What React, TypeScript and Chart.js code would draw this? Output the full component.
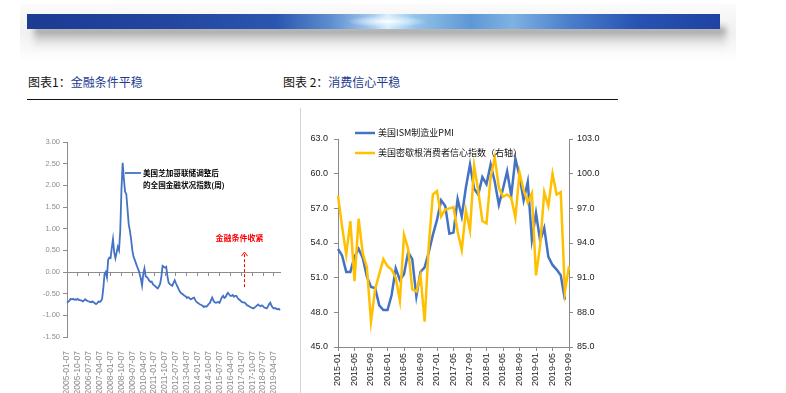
import React, { useEffect, useRef } from "react";
import { Chart, registerables } from "chart.js";

Chart.register(...registerables);

const FONT_NUM = '"Liberation Sans", Arial, sans-serif';
const FONT_CJK = '"Noto Sans CJK SC", "Liberation Sans", sans-serif';

function monthRange(startYear: number, count: number, suffix: string): string[] {
  const out: string[] = [];
  for (let i = 0; i < count; i++) {
    const y = startYear + Math.floor(i / 12);
    const m = (i % 12) + 1;
    out.push(`${y}-${m < 10 ? "0" + m : m}${suffix}`);
  }
  return out;
}

// ---------- Chart 1: Chicago Fed adjusted NFCI (monthly readings of weekly series) ----------
const nfciDates = monthRange(2005, 177, "-07");
const nfciValues = [
  -0.71, -0.69, -0.66, -0.62, -0.63, -0.62, -0.64, -0.63, -0.64, -0.62, -0.65, -0.65,
  -0.66, -0.68, -0.66, -0.63, -0.65, -0.67, -0.68, -0.69, -0.70, -0.68, -0.70, -0.72,
  -0.74, -0.72, -0.68, -0.69, -0.67, -0.62, -0.38, -0.05, 0.00, -0.12, 0.28, 0.33,
  0.32, 0.55, 0.76, 0.45, 0.32, 0.45, 0.58, 0.50, 0.95, 1.90, 2.52, 2.15,
  1.85, 1.80, 1.45, 1.10, 0.95, 0.75, 0.50, 0.35, 0.28, 0.20, 0.12, 0.05,
  -0.04, -0.15, -0.31, -0.05, 0.08, -0.10, -0.12, -0.15, -0.20, -0.23, -0.22, -0.28,
  -0.31, -0.33, -0.36, -0.38, -0.33, -0.27, -0.10, 0.14, 0.12, 0.10, 0.12, -0.10,
  -0.25, -0.28, -0.30, -0.32, -0.25, -0.19, -0.26, -0.32, -0.38, -0.44, -0.48, -0.50,
  -0.52, -0.55, -0.56, -0.60, -0.58, -0.60, -0.63, -0.62, -0.60, -0.59, -0.65, -0.69,
  -0.71, -0.73, -0.75, -0.76, -0.78, -0.81, -0.79, -0.80, -0.78, -0.74, -0.72, -0.65,
  -0.59, -0.66, -0.70, -0.71, -0.70, -0.69, -0.71, -0.65, -0.58, -0.55, -0.60, -0.58,
  -0.52, -0.48, -0.52, -0.55, -0.55, -0.53, -0.57, -0.55, -0.55, -0.60, -0.63, -0.65,
  -0.68, -0.70, -0.70, -0.71, -0.74, -0.77, -0.78, -0.80, -0.82, -0.83, -0.84, -0.82,
  -0.80, -0.77, -0.75, -0.78, -0.79, -0.77, -0.79, -0.82, -0.83, -0.84, -0.80, -0.74,
  -0.71, -0.78, -0.82, -0.84, -0.83, -0.85, -0.86, -0.85, -0.88,
];
const nfciTickLabels = [
  "2005-01-07", "2005-10-07", "2006-07-07", "2007-04-07", "2008-01-07",
  "2008-10-07", "2009-07-07", "2010-04-07", "2011-01-07", "2011-10-07",
  "2012-07-07", "2013-04-07", "2014-01-07", "2014-10-07", "2015-07-07",
  "2016-04-07", "2017-01-07", "2017-10-07", "2018-07-07", "2019-04-07",
];
const nfciLegendLines = ["美国芝加哥联储调整后", "的全国金融状况指数(周)"];
const nfciNoteText = "金融条件收紧";
const nfciNoteDate = "2017-03-07";
const nfciNoteArrowTop = 0.46;
const nfciNoteArrowBottom = -0.35;
const nfciNoteTextValue = 0.78;

// ---------- Chart 2: ISM PMI & Michigan sentiment ----------
const pmiMonths = monthRange(2015, 57, "");
const ismPmi = [
  53.5, 52.9, 51.5, 51.5, 52.8, 53.5, 52.7, 51.1, 50.2, 50.1, 48.6, 48.2,
  48.2, 49.5, 51.8, 50.8, 51.3, 53.2, 52.6, 49.4, 51.5, 51.9, 53.2, 54.7,
  56.0, 57.7, 57.2, 54.8, 54.9, 57.8, 56.3, 58.8, 60.8, 58.7, 58.2, 59.7,
  59.1, 60.8, 59.3, 57.3, 58.7, 60.2, 58.1, 61.3, 59.8, 57.7, 59.3, 54.3,
  56.6, 54.2, 55.3, 52.8, 52.1, 51.7, 51.2, 49.1, null,
];
const michiganSentiment = [
  98.1, 95.4, 93.0, 95.9, 90.7, 96.1, 93.1, 91.9, 87.2, 90.0, 91.3, 92.6,
  92.0, 91.7, 91.0, 89.0, 94.7, 93.5, 90.0, 89.8, 91.2, 87.2, 93.8, 98.2,
  98.5, 96.3, 96.9, 97.0, 97.1, 95.0, 93.4, 96.8, 95.1, 100.7, 98.5, 95.9,
  95.7, 99.7, 101.4, 98.8, 98.0, 98.2, 97.9, 96.2, 100.1, 98.6, 97.5, 98.3,
  91.2, 93.8, 98.4, 97.2, 100.0, 98.2, 98.4, 89.8, 92.0,
];
const pmiTickLabels = [
  "2015-01", "2015-05", "2015-09", "2016-01", "2016-05", "2016-09", "2017-01",
  "2017-05", "2017-09", "2018-01", "2018-05", "2018-09", "2019-01", "2019-05", "2019-09",
];
const pmiLegend = "美国ISM制造业PMI";
const sentimentLegend = "美国密歇根消费者信心指数（右轴）";

const BLUE = "#4472c4";
const YELLOW = "#ffc000";
const GRAY1 = "#8c8c8c";
const GRAY2 = "#8a8a8a";
const CLEAR = "rgba(0,0,0,0)";

function NfciChart() {
  const ref = useRef<HTMLCanvasElement | null>(null);
  useEffect(() => {
    if (!ref.current) return;
    const tickSet = new Set(nfciTickLabels);
    const overlay = {
      id: "nfciOverlay",
      afterDraw(chart: any) {
        const { ctx, chartArea: a, scales } = chart;
        const x = scales.x;
        const y = scales.y;
        const ax = Math.round(x.getPixelForValue(nfciDates.indexOf(nfciNoteDate))) + 0.5;
        const yTop = y.getPixelForValue(nfciNoteArrowTop);
        const yBot = y.getPixelForValue(nfciNoteArrowBottom);
        ctx.save();
        ctx.strokeStyle = "#ff0000";
        ctx.lineWidth = 1;
        ctx.setLineDash([3, 2]);
        ctx.beginPath();
        ctx.moveTo(ax, yBot);
        ctx.lineTo(ax, yTop + 1);
        ctx.stroke();
        ctx.setLineDash([]);
        ctx.beginPath();
        ctx.moveTo(ax - 3, yTop + 4);
        ctx.lineTo(ax, yTop);
        ctx.lineTo(ax + 3, yTop + 4);
        ctx.stroke();
        ctx.fillStyle = "#ff0000";
        ctx.font = `bold 8px ${FONT_CJK}`;
        ctx.textAlign = "center";
        ctx.textBaseline = "middle";
        ctx.fillText(nfciNoteText, ax - 5, y.getPixelForValue(nfciNoteTextValue));
        // legend
        const ly = a.top + 31;
        ctx.strokeStyle = BLUE;
        ctx.lineWidth = 1.8;
        ctx.beginPath();
        ctx.moveTo(a.left + 58, ly);
        ctx.lineTo(a.left + 74, ly);
        ctx.stroke();
        ctx.fillStyle = "#000";
        ctx.textAlign = "left";
        ctx.font = `bold 7.6px ${FONT_CJK}`;
        ctx.fillText(nfciLegendLines[0], a.left + 76, ly);
        ctx.fillText(nfciLegendLines[1], a.left + 76, ly + 12);
        ctx.restore();
      },
    };
    const chart = new Chart(ref.current, {
      type: "line",
      data: {
        labels: nfciDates,
        datasets: [
          {
            data: nfciValues,
            borderColor: BLUE,
            borderWidth: 1.8,
            pointRadius: 0,
            tension: 0,
            fill: false,
          },
        ],
      },
      options: {
        animation: false,
        responsive: false,
        maintainAspectRatio: false,
        layout: { padding: { left: 0, right: 20, top: 22, bottom: 0 } },
        plugins: { legend: { display: false }, tooltip: { enabled: false } },
        scales: {
          x: {
            type: "category",
            position: "bottom",
            grid: { display: false },
            border: { display: false },
            ticks: {
              autoSkip: false,
              maxRotation: 90,
              minRotation: 90,
              padding: 6,
              color: GRAY1,
              font: { family: FONT_NUM, size: 8.5 },
              callback: (_v: any, i: number) => (tickSet.has(nfciDates[i]) ? nfciDates[i] : ""),
            },
            afterFit: (s: any) => {
              s.height = 56;
            },
          },
          x2: {
            type: "category",
            axis: "x",
            position: { y: 0 },
            ticks: { display: false, autoSkip: false },
            grid: {
              display: true,
              drawOnChartArea: false,
              drawTicks: true,
              tickLength: 3,
              color: (c: any) => (tickSet.has(nfciDates[c.index]) ? GRAY1 : CLEAR),
            },
            border: { display: true, color: GRAY1, width: 1 },
          },
          y: {
            min: -1.5,
            max: 3,
            ticks: {
              stepSize: 0.5,
              padding: 3,
              color: GRAY1,
              font: { family: FONT_NUM, size: 7.5 },
              callback: (v: any) => Number(v).toFixed(2),
            },
            grid: { display: true, drawOnChartArea: false, drawTicks: true, tickLength: 4, color: GRAY1 },
            border: { display: true, color: GRAY1 },
            afterFit: (s: any) => {
              s.width = 67;
            },
          },
        },
      } as any,
      plugins: [overlay],
    });
    return () => chart.destroy();
  }, []);
  return (
    <canvas
      ref={ref}
      width={300}
      height={273}
      style={{ position: "absolute", left: 0, top: 120, width: 300, height: 273 }}
    />
  );
}

function PmiChart() {
  const ref = useRef<HTMLCanvasElement | null>(null);
  useEffect(() => {
    if (!ref.current) return;
    const tickSet = new Set(pmiTickLabels);
    const overlay = {
      id: "pmiLegend",
      afterDraw(chart: any) {
        const { ctx, chartArea: a } = chart;
        const items = [
          { text: pmiLegend, color: BLUE, y: a.top - 6 },
          { text: sentimentLegend, color: YELLOW, y: a.top + 14 },
        ];
        ctx.save();
        ctx.font = `9px ${FONT_CJK}`;
        ctx.textBaseline = "middle";
        ctx.textAlign = "left";
        items.forEach((it) => {
          ctx.strokeStyle = it.color;
          ctx.lineWidth = 2.5;
          ctx.beginPath();
          ctx.moveTo(a.left + 17, it.y);
          ctx.lineTo(a.left + 37, it.y);
          ctx.stroke();
          ctx.fillStyle = "#111";
          ctx.fillText(it.text, a.left + 40, it.y);
        });
        ctx.restore();
      },
    };
    const axisFont = { family: FONT_NUM, size: 9 };
    const chart = new Chart(ref.current, {
      type: "line",
      data: {
        labels: pmiMonths,
        datasets: [
          {
            label: pmiLegend,
            data: ismPmi,
            yAxisID: "y",
            borderColor: BLUE,
            borderWidth: 2.5,
            pointRadius: 0,
            tension: 0,
            fill: false,
            order: 2,
          },
          {
            label: sentimentLegend,
            data: michiganSentiment,
            yAxisID: "y1",
            borderColor: YELLOW,
            borderWidth: 2.5,
            pointRadius: 0,
            tension: 0,
            fill: false,
            order: 1,
          },
        ],
      },
      options: {
        animation: false,
        responsive: false,
        maintainAspectRatio: false,
        layout: { padding: { left: 0, right: 3, top: 29, bottom: 0 } },
        plugins: { legend: { display: false }, tooltip: { enabled: false } },
        scales: {
          x: {
            type: "category",
            grid: {
              display: true,
              drawOnChartArea: false,
              drawTicks: true,
              tickLength: 4,
              color: (c: any) => (tickSet.has(pmiMonths[c.index]) ? GRAY2 : CLEAR),
            },
            border: { display: true, color: GRAY2 },
            ticks: {
              autoSkip: false,
              maxRotation: 90,
              minRotation: 90,
              padding: 2,
              color: "#222",
              font: axisFont,
              callback: (_v: any, i: number) => (tickSet.has(pmiMonths[i]) ? pmiMonths[i] : ""),
            },
            afterFit: (s: any) => {
              s.height = 46;
            },
          },
          y: {
            position: "left",
            min: 45,
            max: 63,
            ticks: {
              stepSize: 3,
              padding: 6,
              color: "#222",
              font: axisFont,
              callback: (v: any) => Number(v).toFixed(1),
            },
            grid: { display: true, drawOnChartArea: false, drawTicks: true, tickLength: 4, color: GRAY2 },
            border: { display: true, color: GRAY2 },
            afterFit: (s: any) => {
              s.width = 38;
            },
          },
          y1: {
            position: "right",
            min: 85,
            max: 103,
            ticks: {
              stepSize: 3,
              padding: 4,
              color: "#222",
              font: axisFont,
              callback: (v: any) => Number(v).toFixed(1),
            },
            grid: { display: true, drawOnChartArea: false, drawTicks: true, tickLength: 4, color: GRAY2 },
            border: { display: true, color: GRAY2 },
            afterFit: (s: any) => {
              s.width = 40;
            },
          },
        },
      } as any,
      plugins: [overlay],
    });
    return () => chart.destroy();
  }, []);
  return (
    <canvas
      ref={ref}
      width={312}
      height={283}
      style={{ position: "absolute", left: 300, top: 110, width: 312, height: 283 }}
    />
  );
}

export default function App() {
  return (
    <div
      style={{
        position: "absolute",
        left: 0,
        top: 0,
        width: 786,
        height: 393,
        background: "#ffffff",
        overflow: "hidden",
        fontFamily: FONT_CJK,
      }}
    >
      {/* banner backdrop */}
      <div
        style={{
          position: "absolute",
          left: 20,
          top: 4,
          width: 716,
          height: 58,
          background: "linear-gradient(to bottom, #fbfbfb 0%, #f1f1f1 50%, #ffffff 100%)",
        }}
      />
      {/* banner shadow */}
      <div
        style={{
          position: "absolute",
          left: 34,
          top: 27,
          width: 692,
          height: 22,
          background: "linear-gradient(to bottom, rgba(110,110,110,0.75) 0%, rgba(170,170,170,0.35) 55%, rgba(255,255,255,0) 100%)",
          filter: "blur(3px)",
        }}
      />
      {/* banner */}
      <div
        style={{
          position: "absolute",
          left: 27,
          top: 14,
          width: 693,
          height: 15,
          background:
            "radial-gradient(ellipse 40px 6px at 52% 50%, rgba(255,255,255,1) 0%, rgba(230,245,255,0.7) 40%, rgba(255,255,255,0) 100%)," +
            "linear-gradient(to right, #1c3b93 0%, #22469f 20%, #2b56b0 36%, #5f8fd0 44%, #a9cdef 50%, #d9efff 52%, #93c3ea 56%, #5d98d6 64%, #7fb2e2 70%, #4b80cc 78%, #2853b2 88%, #1f43a2 100%)",
        }}
      />
      {/* titles */}
      <div style={{ position: "absolute", left: 28, top: 74, fontSize: 12, lineHeight: "16px", whiteSpace: "nowrap" }}>
        <span style={{ color: "#111" }}>图表1：</span>
        <span style={{ color: "#1d3c8f" }}>金融条件平稳</span>
      </div>
      <div style={{ position: "absolute", left: 283, top: 74, fontSize: 12, lineHeight: "16px", whiteSpace: "nowrap" }}>
        <span style={{ color: "#111" }}>图表 2：</span>
        <span style={{ color: "#1d3c8f" }}>消费信心平稳</span>
      </div>
      <div style={{ position: "absolute", left: 27, top: 99, width: 591, height: 1, background: "#111" }} />
      {/* chart 2 frame edge */}
      <div style={{ position: "absolute", left: 300, top: 108, width: 1, height: 285, background: "#d4d4d4" }} />
      <NfciChart />
      <PmiChart />
    </div>
  );
}
